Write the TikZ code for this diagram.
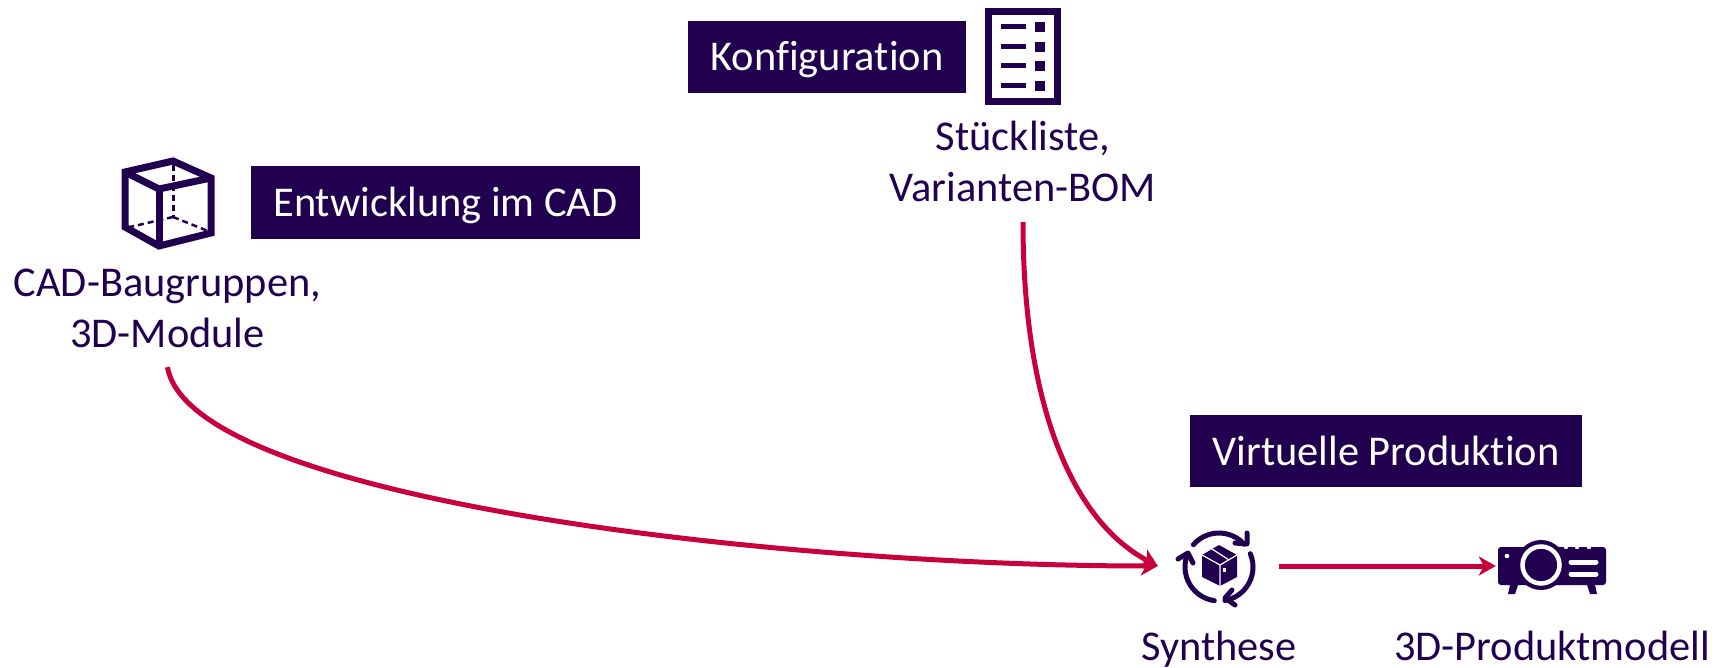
\documentclass[tikz,border=0pt]{standalone}
\usepackage{fontspec}
\setmainfont{Carlito}[Ligatures=NoCommon]
\usetikzlibrary{arrows.meta}
\definecolor{darkviolet}{HTML}{21004F}
\definecolor{linkred}{HTML}{C8003C}
\tikzset{
  stagebox/.style={fill=darkviolet, text=white, inner sep=0pt, text height=36pt, text depth=8pt, font=\fontsize{42.4}{50}\selectfont},
  partlabel/.style={text=darkviolet, align=center, inner sep=0pt, font=\fontsize{42.4}{51}\selectfont},
  iconspot/.style={inner sep=0pt, minimum height=20pt},
  iconline/.style={draw=darkviolet, line width=7pt, line join=miter},
  arcline/.style={draw=darkviolet, line width=5pt, line cap=round, line join=round},
  link/.style={draw=linkred, line width=5pt, -{Stealth[length=17pt,width=19pt,inset=5pt]}},
}
\begin{document}
\begin{tikzpicture}[x=1pt, y=1pt, yscale=-1]
    \useasboundingbox (0,0) rectangle (1716,668);
    % Stage boxes
    \node[stagebox, minimum width=278pt, minimum height=72pt] (konfig) at (827,57) {Konfiguration};
    \node[stagebox, minimum width=389pt, minimum height=73pt] (entwicklung) at (445.5,202.5) {Entwicklung im CAD};
    \node[stagebox, minimum width=392pt, minimum height=72pt] (produktion) at (1386,451) {Virtuelle Produktion};
    % Labels
    \node[partlabel] (cadlabel) at (167.5,308) {CAD-Baugruppen,\\3D-Module};
    \node[partlabel] (stueckliste) at (1023,161) {Stückliste,\\Varianten-BOM};
    \node[partlabel, anchor=base] (syntheselabel) at (1219,660) {Synthese};
    \node[partlabel, anchor=base] (modelllabel) at (1552,660) {3D-Produktmodell};
    % Cube icon
    \draw[iconline] (125,172)--(173,161)--(211,178)--(211,233)--(159,246)--(125,227)--cycle;
    \draw[iconline] (125,172)--(159,189)--(211,178);
    \draw[iconline] (159,189)--(159,246);
    \draw[draw=darkviolet, line width=3pt, dash pattern=on 6pt off 4pt] (173,165)--(173,217);
    \draw[draw=darkviolet, line width=2.5pt, dash pattern=on 6pt off 4pt] (173,217)--(130,227);
    \draw[draw=darkviolet, line width=2.5pt, dash pattern=on 6pt off 4pt] (173,217)--(208,231);
    % List icon
    \draw[iconline] (988.5,11.5) rectangle (1057.5,101.5);
    \foreach \y in {27,47,66,86} {
        \fill[darkviolet] (1001,\y-2.5) rectangle (1026,\y+2.5);
        \fill[darkviolet] (1035,\y-5) rectangle (1045,\y+5);
    }
    % Synthese icon
    \node[iconspot, minimum width=121pt] (synthese) at (1218.5,566) {};
    \draw[arcline] (1219,567) ++(-139:34) arc[start angle=-139, end angle=-42, radius=34];
    \draw[arcline] (1219,567) ++(-23:34) arc[start angle=-23, end angle=80, radius=34];
    \draw[arcline] (1219,567) ++(98:34) arc[start angle=98, end angle=203, radius=34];
    \draw[arcline] (1247,533)--(1247,544)--(1235,543);
    \draw[arcline] (1232,590)--(1225,598)--(1235,605);
    \draw[arcline] (1178,559)--(1188,553)--(1193,563);
    \fill[darkviolet] (1219,545)--(1237,555)--(1237,577)--(1220,586)--(1202,577)--(1202,555)--cycle;
    \draw[white, line width=1.2pt] (1202,555)--(1220,565)--(1237,555) (1220,565)--(1220,586) (1212,549)--(1229,560);
    \fill[white] (1223,568) rectangle (1226,572);
    % Projector icon
    \node[iconspot, minimum width=114pt] (projektor) at (1553,566) {};
    \fill[darkviolet, rounded corners=3pt] (1498,547) rectangle (1606,585);
    \fill[darkviolet] (1541,565) circle (25);
    \fill[darkviolet] (1510,585)--(1518,585)--(1515,594)--(1508,594)--cycle;
    \fill[darkviolet] (1587,585)--(1595,585)--(1597,594)--(1590,594)--cycle;
    \fill[white] (1507,556) circle (2.3);
    \draw[white, line width=4.5pt] (1541,565) circle (18.5);
    \draw[white, line width=5pt, line cap=round] (1571,562)--(1596,562) (1571,574)--(1596,574);
    \foreach \x in {1566,1577,1589} { \fill[white] (\x,547) circle (2.2); }
    % Connectors
    \draw[link] ([yshift=19.5pt]cadlabel.south) .. controls (190,500) and (780,566) .. (synthese.west);
    \draw[link] ([yshift=20.5pt]stueckliste.south) .. controls (1023,400) and (1070,520) .. (synthese.west);
    \draw[link] (synthese.east) -- (projektor.west);
\end{tikzpicture}
\end{document}
